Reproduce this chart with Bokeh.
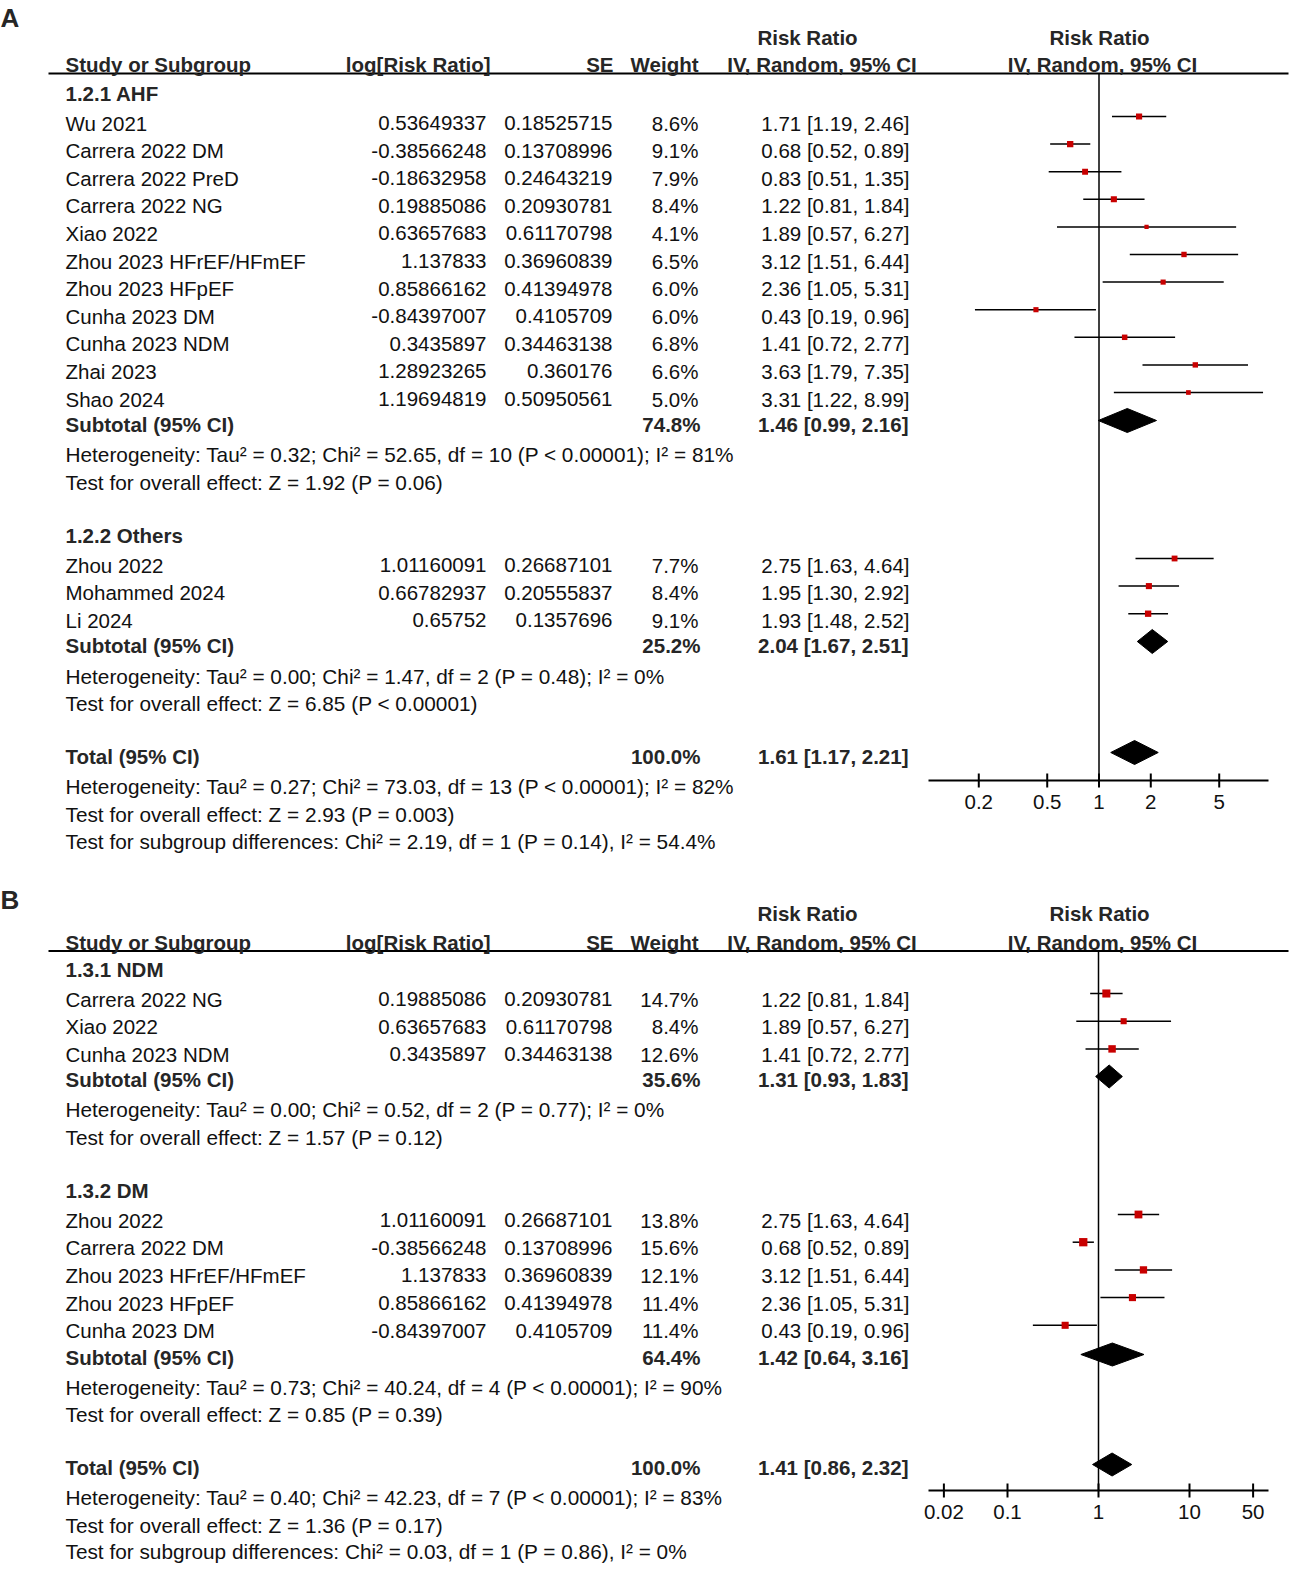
import math
from bokeh.plotting import figure
from bokeh.models import Range1d, LogScale, ColumnDataSource
from bokeh.embed import file_html
from bokeh.resources import INLINE
from bokeh.core.properties import value

# ---------------- data: panel A ----------------
A1_title = "1.2.1 AHF"
A1_names = ["Wu 2021", "Carrera 2022 DM", "Carrera 2022 PreD", "Carrera 2022 NG", "Xiao 2022",
            "Zhou 2023 HFrEF/HFmEF", "Zhou 2023 HFpEF", "Cunha 2023 DM", "Cunha 2023 NDM",
            "Zhai 2023", "Shao 2024"]
A1_logrr = [0.53649337, -0.38566248, -0.18632958, 0.19885086, 0.63657683, 1.137833,
            0.85866162, -0.84397007, 0.3435897, 1.28923265, 1.19694819]
A1_se = [0.18525715, 0.13708996, 0.24643219, 0.20930781, 0.61170798, 0.36960839,
         0.41394978, 0.4105709, 0.34463138, 0.360176, 0.50950561]
A1_weight = [8.6, 9.1, 7.9, 8.4, 4.1, 6.5, 6.0, 6.0, 6.8, 6.6, 5.0]
A1_rr = [1.71, 0.68, 0.83, 1.22, 1.89, 3.12, 2.36, 0.43, 1.41, 3.63, 3.31]
A1_lo = [1.19, 0.52, 0.51, 0.81, 0.57, 1.51, 1.05, 0.19, 0.72, 1.79, 1.22]
A1_hi = [2.46, 0.89, 1.35, 1.84, 6.27, 6.44, 5.31, 0.96, 2.77, 7.35, 8.99]
A1_sub = ("74.8%", 1.46, 0.99, 2.16)
A1_het = ["Heterogeneity: Tau\u00b2 = 0.32; Chi\u00b2 = 52.65, df = 10 (P < 0.00001); I\u00b2 = 81%",
          "Test for overall effect: Z = 1.92 (P = 0.06)"]

A2_title = "1.2.2 Others"
A2_names = ["Zhou 2022", "Mohammed 2024", "Li 2024"]
A2_logrr = [1.01160091, 0.66782937, 0.65752]
A2_se = [0.26687101, 0.20555837, 0.1357696]
A2_weight = [7.7, 8.4, 9.1]
A2_rr = [2.75, 1.95, 1.93]
A2_lo = [1.63, 1.30, 1.48]
A2_hi = [4.64, 2.92, 2.52]
A2_sub = ("25.2%", 2.04, 1.67, 2.51)
A2_het = ["Heterogeneity: Tau\u00b2 = 0.00; Chi\u00b2 = 1.47, df = 2 (P = 0.48); I\u00b2 = 0%",
          "Test for overall effect: Z = 6.85 (P < 0.00001)"]

A_total = ("100.0%", 1.61, 1.17, 2.21)
A_foot = ["Heterogeneity: Tau\u00b2 = 0.27; Chi\u00b2 = 73.03, df = 13 (P < 0.00001); I\u00b2 = 82%",
          "Test for overall effect: Z = 2.93 (P = 0.003)",
          "Test for subgroup differences: Chi\u00b2 = 2.19, df = 1 (P = 0.14), I\u00b2 = 54.4%"]
A_ticks = [0.2, 0.5, 1, 2, 5]
A_tick_labels = ["0.2", "0.5", "1", "2", "5"]

# ---------------- data: panel B ----------------
B1_title = "1.3.1 NDM"
B1_names = ["Carrera 2022 NG", "Xiao 2022", "Cunha 2023 NDM"]
B1_logrr = [0.19885086, 0.63657683, 0.3435897]
B1_se = [0.20930781, 0.61170798, 0.34463138]
B1_weight = [14.7, 8.4, 12.6]
B1_rr = [1.22, 1.89, 1.41]
B1_lo = [0.81, 0.57, 0.72]
B1_hi = [1.84, 6.27, 2.77]
B1_sub = ("35.6%", 1.31, 0.93, 1.83)
B1_het = ["Heterogeneity: Tau\u00b2 = 0.00; Chi\u00b2 = 0.52, df = 2 (P = 0.77); I\u00b2 = 0%",
          "Test for overall effect: Z = 1.57 (P = 0.12)"]

B2_title = "1.3.2 DM"
B2_names = ["Zhou 2022", "Carrera 2022 DM", "Zhou 2023 HFrEF/HFmEF", "Zhou 2023 HFpEF", "Cunha 2023 DM"]
B2_logrr = [1.01160091, -0.38566248, 1.137833, 0.85866162, -0.84397007]
B2_se = [0.26687101, 0.13708996, 0.36960839, 0.41394978, 0.4105709]
B2_weight = [13.8, 15.6, 12.1, 11.4, 11.4]
B2_rr = [2.75, 0.68, 3.12, 2.36, 0.43]
B2_lo = [1.63, 0.52, 1.51, 1.05, 0.19]
B2_hi = [4.64, 0.89, 6.44, 5.31, 0.96]
B2_sub = ("64.4%", 1.42, 0.64, 3.16)
B2_het = ["Heterogeneity: Tau\u00b2 = 0.73; Chi\u00b2 = 40.24, df = 4 (P < 0.00001); I\u00b2 = 90%",
          "Test for overall effect: Z = 0.85 (P = 0.39)"]

B_total = ("100.0%", 1.41, 0.86, 2.32)
B_foot = ["Heterogeneity: Tau\u00b2 = 0.40; Chi\u00b2 = 42.23, df = 7 (P < 0.00001); I\u00b2 = 83%",
          "Test for overall effect: Z = 1.36 (P = 0.17)",
          "Test for subgroup differences: Chi\u00b2 = 0.03, df = 1 (P = 0.86), I\u00b2 = 0%"]
B_ticks = [0.02, 0.1, 1, 10, 50]
B_tick_labels = ["0.02", "0.1", "1", "10", "50"]

# ---------------- styling ----------------
FONT = "Liberation Sans"
REG = "20.5px"
HET = "20.8px"
TXT = "#111111"
BOLDC = "#262626"
RED = "#c80000"
BOFF = 7.5     # text centre -> alphabetic baseline
TDY = -8       # rendering correction for text placement

W, H = 1296, 1568
p = figure(width=W, height=H, x_range=Range1d(0, W), y_range=Range1d(H, 0),
           x_axis_location=None, y_axis_location=None, toolbar_location=None,
           output_backend="svg", min_border=0)
p.grid.visible = False
p.outline_line_color = None
p.background_fill_color = "white"
p.border_fill_color = "white"


def rr_at(px, one, ppd):
    return 10 ** ((px - one) / ppd)


p.extra_x_ranges = {"fa": Range1d(rr_at(0, 1098.5, 172.0), rr_at(W, 1098.5, 172.0)),
                    "fb": Range1d(rr_at(0, 1098.0, 91.0), rr_at(W, 1098.0, 91.0))}
p.extra_x_scales = {"fa": LogScale(), "fb": LogScale()}

texts = {}


def T(x, y, s, align="left", bold=False, size=REG, rng="default"):
    key = (align, bold, size, rng)
    d = texts.setdefault(key, dict(x=[], y=[], text=[]))
    d["x"].append(x)
    d["y"].append(y + TDY)
    d["text"].append(s)


def ci(rr, lo, hi):
    return f"{rr:.2f} [{lo:.2f}, {hi:.2f}]"


def draw_panel(P):
    rng = P["rng"]
    T(0, P["label_base"], P["label"], bold=True, size="26px")
    T(807, P["rr_base"], "Risk Ratio", "center", True)
    T(1099, P["rr_base"], "Risk Ratio", "center", True)
    hb = P["hdr_base"]
    T(65, hb, "Study or Subgroup", bold=True)
    T(490, hb, "log[Risk Ratio]", "right", True)
    T(613, hb, "SE", "right", True)
    T(698, hb, "Weight", "right", True)
    T(821.5, hb, "IV, Random, 95% CI", "center", True)
    T(1102, hb, "IV, Random, 95% CI", "center", True)
    # header rule
    p.segment(x0=[48], y0=[P["line_y"]], x1=[1288], y1=[P["line_y"]], line_color="black", line_width=2)
    # vertical line of no effect
    p.segment(x0=[1], y0=[P["line_y"]], x1=[1], y1=[P["axis_y"]], line_color="black",
              line_width=1.5, x_range_name=rng)
    seg = dict(x0=[], x1=[], y=[])
    sq = dict(x=[], y=[], size=[])
    dia_xs, dia_ys = [], []
    for gi, g in enumerate(P["groups"]):
        T(65, P["title_y"][gi] + BOFF, g["title"], bold=True)
        y0 = P["study_y0"][gi]
        for i, name in enumerate(g["names"]):
            yc = y0 + i * P["step"]
            yb = yc + BOFF
            T(65, yb, name)
            T(486, yb, str(g["logrr"][i]), "right")
            T(612, yb, str(g["se"][i]), "right")
            T(698, yb, f"{g['weight'][i]:.1f}%", "right")
            T(909, yb, ci(g["rr"][i], g["lo"][i], g["hi"][i]), "right")
            yf = yc + P["foff"]
            seg["x0"].append(g["lo"][i]); seg["x1"].append(g["hi"][i]); seg["y"].append(yf)
            sq["x"].append(g["rr"][i]); sq["y"].append(yf)
            sq["size"].append(2.1 * math.sqrt(g["weight"][i]))
        ys = P["sub_y"][gi]
        w, e, lo, hi = g["sub"]
        T(65, ys + BOFF, "Subtotal (95% CI)", bold=True)
        T(700, ys + BOFF, w, "right", True)
        T(908, ys + BOFF, ci(e, lo, hi), "right", True)
        yd = ys + P["doff"]
        dia_xs.append([lo, e, hi, e]); dia_ys.append([yd, yd - P["dh"], yd, yd + P["dh"]])
        for j, line in enumerate(g["het"]):
            T(65, P["het_y"][gi][j] + BOFF, line, size=HET)
    w, e, lo, hi = P["total"]
    yt = P["total_y"]
    T(65, yt + BOFF, "Total (95% CI)", bold=True)
    T(700, yt + BOFF, w, "right", True)
    T(908, yt + BOFF, ci(e, lo, hi), "right", True)
    yd = yt + P["doff"]
    dia_xs.append([lo, e, hi, e]); dia_ys.append([yd, yd - P["dh"], yd, yd + P["dh"]])
    for j, line in enumerate(P["foot"]):
        T(65, P["foot_y"][j] + BOFF, line, size=HET)

    p.segment(x0="x0", y0="y", x1="x1", y1="y", source=ColumnDataSource(seg),
              line_color="black", line_width=1.5, x_range_name=rng)
    p.scatter(x="x", y="y", size="size", source=ColumnDataSource(sq), marker="square",
              fill_color=RED, line_color=None, x_range_name=rng)
    p.patches(xs=dia_xs, ys=dia_ys, fill_color="black", line_color="black", x_range_name=rng)

    # axis
    ay = P["axis_y"]
    p.segment(x0=[928], y0=[ay], x1=[1268], y1=[ay], line_color="black", line_width=2)
    p.segment(x0=P["ticks"], y0=[ay - 7] * len(P["ticks"]), x1=P["ticks"], y1=[ay + 7] * len(P["ticks"]),
              line_color="black", line_width=2, x_range_name=rng)
    for t, lab in zip(P["ticks"], P["tick_labels"]):
        T(t, ay + 22 + BOFF, lab, "center", rng=rng)


panelA = dict(
    rng="fa", label="A", label_base=25, rr_base=44.5, hdr_base=72, line_y=73,
    groups=[
        dict(title=A1_title, names=A1_names, logrr=A1_logrr, se=A1_se, weight=A1_weight,
             rr=A1_rr, lo=A1_lo, hi=A1_hi, sub=A1_sub, het=A1_het),
        dict(title=A2_title, names=A2_names, logrr=A2_logrr, se=A2_se, weight=A2_weight,
             rr=A2_rr, lo=A2_lo, hi=A2_hi, sub=A2_sub, het=A2_het),
    ],
    title_y=[93, 535], study_y0=[123, 565], step=27.6, sub_y=[424, 645],
    het_y=[(454, 482), (676, 703)], total=A_total, total_y=756, foot=A_foot,
    foot_y=[786, 814, 841], foff=-7, doff=-4, dh=12, axis_y=780,
    ticks=A_ticks, tick_labels=A_tick_labels,
)

panelB = dict(
    rng="fb", label="B", label_base=907, rr_base=921, hdr_base=949.5, line_y=950.5,
    groups=[
        dict(title=B1_title, names=B1_names, logrr=B1_logrr, se=B1_se, weight=B1_weight,
             rr=B1_rr, lo=B1_lo, hi=B1_hi, sub=B1_sub, het=B1_het),
        dict(title=B2_title, names=B2_names, logrr=B2_logrr, se=B2_se, weight=B2_weight,
             rr=B2_rr, lo=B2_lo, hi=B2_hi, sub=B2_sub, het=B2_het),
    ],
    title_y=[969, 1190], study_y0=[999, 1220], step=27.7, sub_y=[1079, 1357],
    het_y=[(1109, 1137), (1387, 1414)], total=B_total, total_y=1467, foot=B_foot,
    foot_y=[1497, 1525, 1551], foff=-6, doff=-3, dh=11.5, axis_y=1490,
    ticks=B_ticks, tick_labels=B_tick_labels,
)

draw_panel(panelA)
draw_panel(panelB)

for (align, bold, size, rng), d in texts.items():
    p.text(x="x", y="y", text="text", source=ColumnDataSource(d),
           text_font=value(FONT), text_font_size=size,
           text_font_style="bold" if bold else "normal",
           text_color=BOLDC if bold else TXT,
           text_align=align, text_baseline="alphabetic", x_range_name=rng)

open("out.html", "w").write(file_html(p, INLINE))
